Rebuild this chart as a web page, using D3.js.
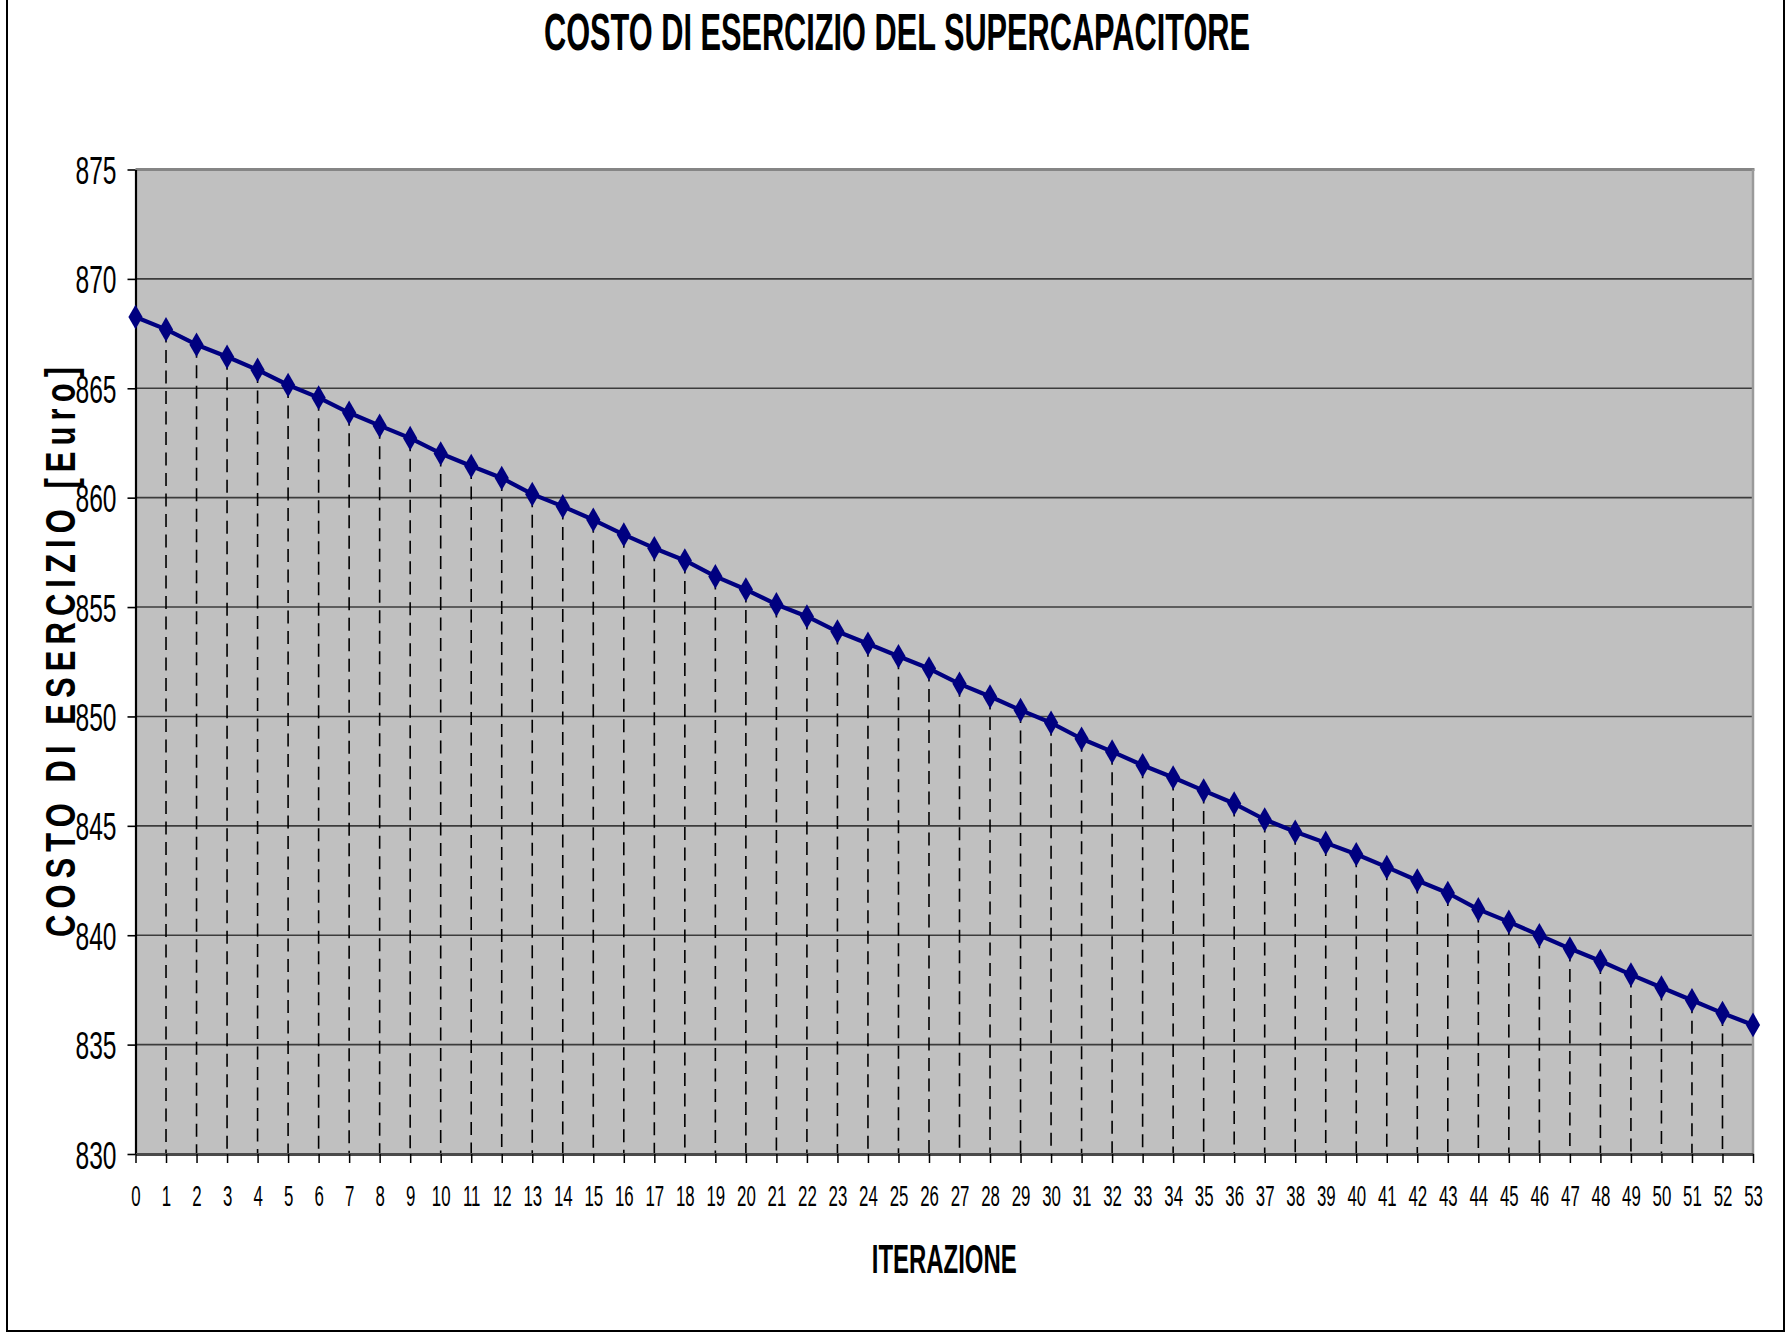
<!DOCTYPE html>
<html>
<head>
<meta charset="utf-8">
<script src="https://cdn.jsdelivr.net/npm/d3@7/dist/d3.min.js"></script>
<style>
  html, body { margin: 0; padding: 0; background: #ffffff; }
  svg { display: block; }
</style>
</head>
<body>
<svg id="chart" width="1787" height="1334"></svg>
<script>
// Iteration index (x categories)
const iterations = [
  0, 1, 2, 3, 4, 5, 6, 7, 8, 9,
  10, 11, 12, 13, 14, 15, 16, 17, 18, 19,
  20, 21, 22, 23, 24, 25, 26, 27, 28, 29,
  30, 31, 32, 33, 34, 35, 36, 37, 38, 39,
  40, 41, 42, 43, 44, 45, 46, 47, 48, 49,
  50, 51, 52, 53
];

// Operating cost of the supercapacitor at each iteration [Euro]
const costValues = [
  868.26, 867.69, 866.99, 866.44, 865.84, 865.15, 864.57, 863.88, 863.29, 862.72,
  862.02, 861.45, 860.90, 860.16, 859.60, 858.99, 858.31, 857.69, 857.13, 856.40,
  855.80, 855.12, 854.57, 853.88, 853.32, 852.75, 852.19, 851.49, 850.91, 850.29,
  849.71, 848.98, 848.39, 847.77, 847.21, 846.61, 846.02, 845.29, 844.73, 844.22,
  843.70, 843.11, 842.50, 841.93, 841.18, 840.61, 840.00, 839.39, 838.82, 838.20,
  837.61, 837.03, 836.44, 835.90
];

const yTicks = [830, 835, 840, 845, 850, 855, 860, 865, 870, 875];

const chartTitle = "COSTO DI ESERCIZIO DEL SUPERCAPACITORE";
const xTitle = "ITERAZIONE";
const yTitle = "COSTO DI ESERCIZIO [Euro]";

// ---- layout ----
const plot = { left: 135.5, right: 1753, top: 169.5, bottom: 1154 };
const FONT = "'Liberation Sans', Arial, Helvetica, sans-serif";

const svg = d3.select("#chart");

const x = d3.scaleLinear()
  .domain([d3.min(iterations), d3.max(iterations)])
  .range([plot.left, plot.right]);

const y = d3.scaleLinear()
  .domain([d3.min(yTicks), d3.max(yTicks)])
  .range([plot.bottom, plot.top]);

// Outer chart frame
svg.append("rect")
  .attr("x", 7).attr("y", -3)
  .attr("width", 1777).attr("height", 1334)
  .attr("fill", "#ffffff")
  .attr("stroke", "#000000")
  .attr("stroke-width", 2);

// Plot area
svg.append("rect")
  .attr("x", plot.left).attr("y", plot.top)
  .attr("width", plot.right - plot.left)
  .attr("height", plot.bottom - plot.top)
  .attr("fill", "#c0c0c0");

// Horizontal gridlines
svg.append("g")
  .selectAll("line")
  .data(yTicks.filter(v => v !== d3.min(yTicks) && v !== d3.max(yTicks)))
  .join("line")
  .attr("x1", plot.left).attr("x2", plot.right)
  .attr("y1", d => y(d)).attr("y2", d => y(d))
  .attr("stroke", "#3c3c3c")
  .attr("stroke-width", 1.6);

// Drop lines from each point down to the category axis
svg.append("g")
  .selectAll("line")
  .data(iterations.slice(1))
  .join("line")
  .attr("x1", d => x(d)).attr("x2", d => x(d))
  .attr("y1", d => y(costValues[d])).attr("y2", plot.bottom)
  .attr("stroke", "#000000")
  .attr("stroke-width", 1.6)
  .attr("stroke-dasharray", "13 7.5");

// Top and right borders of the plot area
svg.append("line")
  .attr("x1", plot.left).attr("x2", plot.right + 1.5)
  .attr("y1", plot.top).attr("y2", plot.top)
  .attr("stroke", "#858585").attr("stroke-width", 3);
svg.append("line")
  .attr("x1", plot.right).attr("x2", plot.right)
  .attr("y1", plot.top).attr("y2", plot.bottom)
  .attr("stroke", "#9a9a9a").attr("stroke-width", 2.5);

// Value axis
const ySx = 0.63;
const yAxisG = svg.append("g")
  .attr("transform", `translate(${plot.left},0)`)
  .call(d3.axisLeft(y).tickValues(yTicks).tickSize(8).tickSizeOuter(0));
yAxisG.select(".domain").attr("stroke", "#000000").attr("stroke-width", 2.2);
yAxisG.selectAll(".tick line").attr("stroke", "#000000").attr("stroke-width", 1.6);
yAxisG.selectAll(".tick text")
  .attr("font-family", FONT)
  .attr("font-size", 39)
  .attr("fill", "#000000")
  .attr("x", -19 / ySx)
  .attr("dy", "0.36em")
  .attr("transform", `scale(${ySx},1)`);

// Category axis
const xSx = 0.58;
const xAxisG = svg.append("g")
  .attr("transform", `translate(0,${plot.bottom})`)
  .call(d3.axisBottom(x).tickValues(iterations).tickFormat(d3.format("d")).tickSize(9).tickSizeOuter(0));
xAxisG.select(".domain").attr("stroke", "#4a4a4a").attr("stroke-width", 2.8);
xAxisG.selectAll(".tick line").attr("stroke", "#000000").attr("stroke-width", 1.5);
xAxisG.selectAll(".tick text")
  .attr("font-family", FONT)
  .attr("font-size", 29)
  .attr("fill", "#000000")
  .attr("y", 52)
  .attr("dy", 0)
  .attr("transform", `scale(${xSx},1)`)
  .attr("x", 0);

// Series line
const line = d3.line()
  .x((d, i) => x(iterations[i]))
  .y(d => y(d));

svg.append("path")
  .datum(costValues)
  .attr("d", line)
  .attr("fill", "none")
  .attr("stroke", "#000080")
  .attr("stroke-width", 4.2)
  .attr("stroke-linejoin", "round");

// Diamond markers
const diamond = d3.symbol().type(d3.symbolDiamond).size(175);
svg.append("g")
  .selectAll("path")
  .data(costValues)
  .join("path")
  .attr("d", diamond)
  .attr("transform", (d, i) => `translate(${x(iterations[i])},${y(d)})`)
  .attr("fill", "#000080");

// Chart title
svg.append("text")
  .attr("x", 897).attr("y", 50)
  .attr("text-anchor", "middle")
  .attr("font-family", FONT)
  .attr("font-weight", "bold")
  .attr("font-size", 51)
  .attr("textLength", 706)
  .attr("lengthAdjust", "spacingAndGlyphs")
  .text(chartTitle);

// Category axis title
svg.append("text")
  .attr("x", (plot.left + plot.right) / 2).attr("y", 1273)
  .attr("text-anchor", "middle")
  .attr("font-family", FONT)
  .attr("font-weight", "bold")
  .attr("font-size", 40)
  .attr("textLength", 145)
  .attr("lengthAdjust", "spacingAndGlyphs")
  .text(xTitle);

// Value axis title (rotated, letter-spaced)
svg.append("g")
  .attr("transform", "translate(75,652) rotate(-90) scale(1,1.4)")
  .append("text")
  .attr("x", 0).attr("y", 0)
  .attr("text-anchor", "middle")
  .attr("font-family", FONT)
  .attr("font-weight", "bold")
  .attr("font-size", 31)
  .attr("textLength", 570)
  .attr("lengthAdjust", "spacing")
  .text(yTitle);
</script>
</body>
</html>
